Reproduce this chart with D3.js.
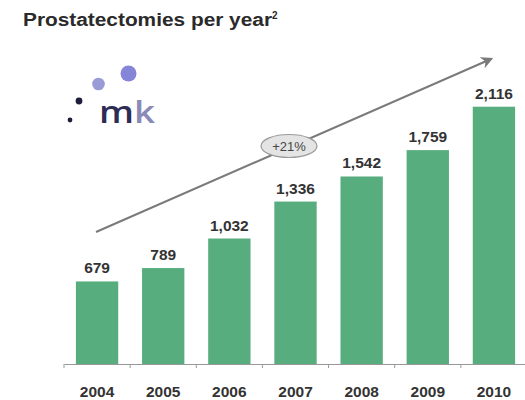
<!DOCTYPE html>
<html>
<head>
<meta charset="utf-8">
<script src="https://cdn.jsdelivr.net/npm/d3@7"></script>
<style>
  html, body { margin: 0; padding: 0; background: #fff; }
  svg { display: block; font-family: "Liberation Sans", Arial, sans-serif; }
</style>
</head>
<body>
<svg id="chart" width="525" height="400"></svg>
<script>
// Annual prostatectomy counts
const years = ["2004", "2005", "2006", "2007", "2008", "2009", "2010"];
const counts = [679, 789, 1032, 1336, 1542, 1759, 2116];
const growthLabel = "+21%";
const titleText = "Prostatectomies per year";

const svg = d3.select("#chart");
const baseY = 364;

const x = d3.scaleBand()
  .domain(years)
  .range([64, 527])
  .paddingInner(0.36)
  .paddingOuter(0.18);

const y = d3.scaleLinear()
  .domain([0, 2500])
  .range([baseY, 60]);

// Title with superscript footnote marker
const title = svg.append("text")
  .attr("x", 23).attr("y", 26)
  .attr("font-size", 17.5).attr("font-weight", "bold")
  .attr("fill", "#2a2a2a");
title.append("tspan")
  .attr("textLength", 249).attr("lengthAdjust", "spacingAndGlyphs")
  .text(titleText);
title.append("tspan")
  .attr("dy", -7).attr("font-size", 10)
  .text("2");

// mk logo
const logo = svg.append("g");
[[70, 120, 2.4, "#1e1e3c"], [79, 101, 3.4, "#1e1e3c"], [98.5, 84, 6.3, "#9a9ad6"], [128.5, 73.5, 8, "#8686d8"]]
  .forEach(([cx, cy, r, c]) => logo.append("circle").attr("cx", cx).attr("cy", cy).attr("r", r).attr("fill", c));
const mk = logo.append("text")
  .attr("x", 99).attr("y", 123)
  .attr("font-size", 30).attr("font-weight", 600)
  .attr("font-family", "'Open Sans', 'DejaVu Sans', sans-serif")
  .attr("textLength", 56).attr("lengthAdjust", "spacingAndGlyphs");
mk.append("tspan").attr("fill", "#2c2c55").text("m");
mk.append("tspan").attr("fill", "#8a8ab8").text("k");

// Growth arrow
const defs = svg.append("defs");
defs.append("marker")
  .attr("id", "arrowhead")
  .attr("viewBox", "0 0 10 10")
  .attr("refX", 8).attr("refY", 5)
  .attr("markerWidth", 6).attr("markerHeight", 6)
  .attr("orient", "auto")
  .append("path")
  .attr("d", "M0,0 L10,5 L0,10 L3,5 Z")
  .attr("fill", "#7a7a7a");

svg.append("line")
  .attr("x1", 96).attr("y1", 232)
  .attr("x2", 491).attr("y2", 59)
  .attr("stroke", "#7a7a7a").attr("stroke-width", 2)
  .attr("marker-end", "url(#arrowhead)");

// Bars
svg.append("g").selectAll("rect")
  .data(counts)
  .join("rect")
  .attr("x", (d, i) => x(years[i]))
  .attr("y", d => y(d))
  .attr("width", x.bandwidth())
  .attr("height", d => baseY - y(d))
  .attr("fill", "#58ad7f");

// Value labels
svg.append("g").selectAll("text")
  .data(counts)
  .join("text")
  .attr("x", (d, i) => x(years[i]) + x.bandwidth() / 2)
  .attr("y", d => y(d) - 8)
  .attr("text-anchor", "middle")
  .attr("font-size", 15.5).attr("font-weight", "bold")
  .attr("fill", "#333")
  .text(d => d3.format(",")(d));

// Growth badge
svg.append("ellipse")
  .attr("cx", 289).attr("cy", 146)
  .attr("rx", 28).attr("ry", 11.5)
  .attr("fill", "#e4e4e4").attr("stroke", "#9a9a9a").attr("stroke-width", 1.2);
svg.append("text")
  .attr("x", 289).attr("y", 151)
  .attr("text-anchor", "middle")
  .attr("font-size", 13)
  .attr("fill", "#444")
  .text(growthLabel);

// X axis
const xAxis = svg.append("g")
  .attr("transform", `translate(0,${baseY})`)
  .call(d3.axisBottom(x).tickSize(0).tickPadding(22));
xAxis.select(".domain").attr("stroke", "#999").attr("stroke-width", 1);
xAxis.selectAll(".tick text")
  .attr("font-size", 15.5).attr("font-weight", "bold")
  .attr("fill", "#333")
  .attr("font-family", "'Liberation Sans', Arial, sans-serif");

// Category separators on the axis
const step = x.step();
const edges = years.map(yr => x(yr) - x.paddingOuter() * step)
  .concat([x(years[years.length - 1]) + x.bandwidth() + x.paddingOuter() * step]);
svg.append("g").selectAll("line")
  .data(edges)
  .join("line")
  .attr("x1", d => d).attr("x2", d => d)
  .attr("y1", baseY).attr("y2", baseY + 4)
  .attr("stroke", "#999");
</script>
</body>
</html>
